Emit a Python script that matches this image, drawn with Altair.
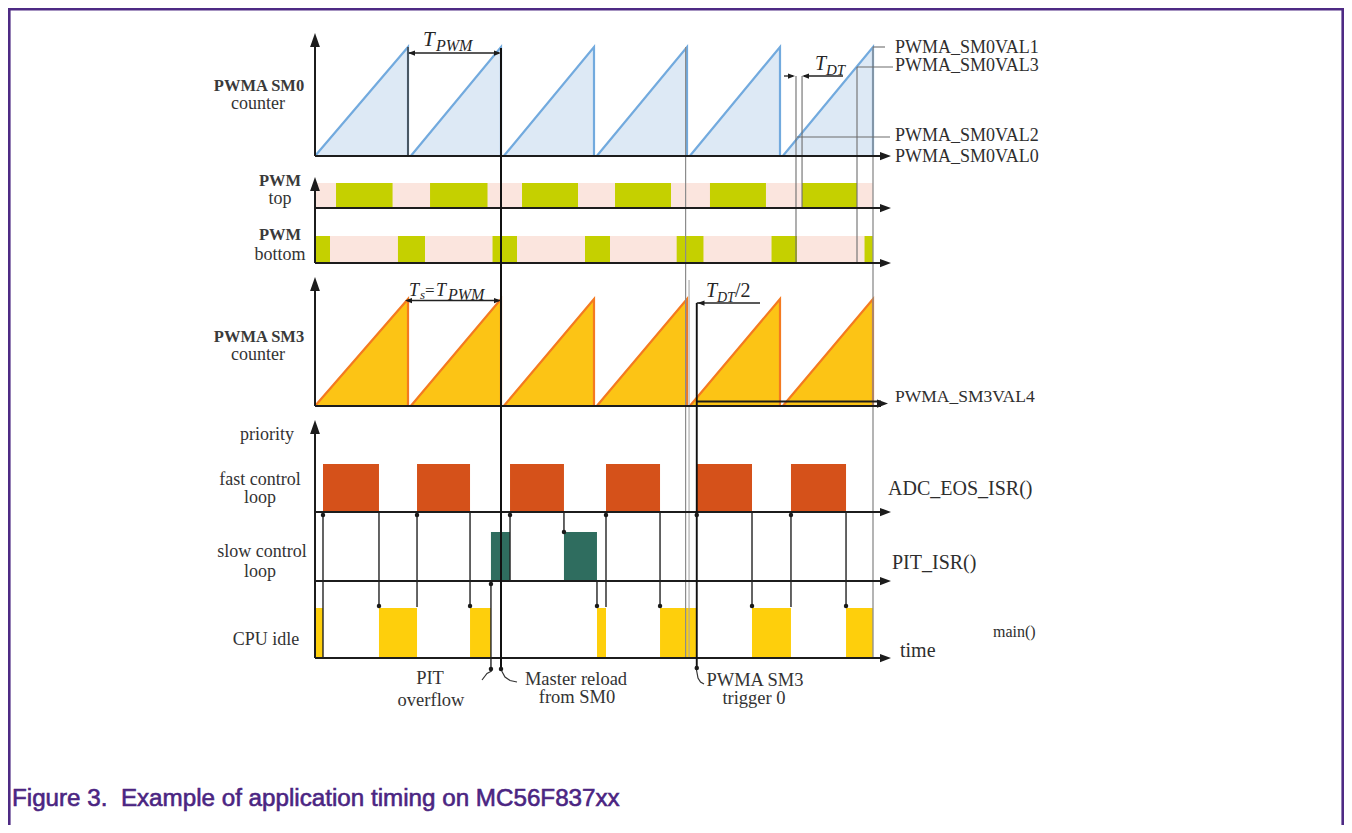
import altair as alt
import pandas as pd

# ---------------- timing data (time in PWM periods T_PWM, 0 = left axis) ----------------
PERIOD_INDEX = [0, 1, 2, 3, 4, 5]
RAMP_START = [0.00, 1.03, 2.03, 3.03, 4.03, 5.03]
RAMP_PEAK = [1.00, 2.00, 3.00, 4.00, 5.00, 6.00]

PWM_TOP_ON = [0.226, 1.237, 2.226, 3.226, 4.247, 5.237]
PWM_TOP_OFF = [0.834, 1.855, 2.828, 3.828, 4.849, 5.828]
PWM_BOT_ON = [0.000, 0.892, 1.909, 2.903, 3.889, 4.909, 5.909]
PWM_BOT_OFF = [0.161, 1.183, 2.172, 3.172, 4.177, 5.183, 6.000]

FAST_ON = [0.086, 1.097, 2.097, 3.129, 4.105, 5.118]
FAST_OFF = [0.688, 1.667, 2.677, 3.710, 4.699, 5.710]
SLOW_ON = [1.892, 2.677]
SLOW_OFF = [2.097, 3.032]
IDLE_ON = [0.000, 0.688, 1.667, 3.032, 3.710, 4.699, 5.710]
IDLE_OFF = [0.086, 1.097, 1.892, 3.129, 4.105, 5.118, 6.000]

# context switches: time, from lane, to lane
SWITCH_T = [0.086, 0.688, 1.097, 1.667, 1.892, 2.097, 2.677, 3.032, 3.129, 3.710, 4.699, 5.118, 5.710]
SWITCH_FROM = ["time", "fast", "idle", "fast", "event", "slow", "fast", "slow", "idle", "fast", "fast", "idle", "fast"]
SWITCH_TO = ["fast", "idle", "fast", "idle", "slow", "fast", "slowtop", "idle", "fast", "idle", "idle", "fast", "idle"]

T_PIT_OVERFLOW = 1.892
T_MASTER_RELOAD = 2.0
T_SM3_TRIGGER = 4.105
T_VAL2 = 5.172
T_VAL2_DT = 5.237
T_VAL3 = 5.828
T_END = 6.0

LEFT_LABELS = ["PWMA SM0", "counter", "PWM", "top", "PWM", "bottom", "PWMA SM3", "counter",
               "priority", "fast control", "loop", "slow control", "loop", "CPU idle"]
LEFT_BOLD = [True, False, True, False, True, False, True, False, False, False, False, False, False, False]
RIGHT_LABELS = ["PWMA_SM0VAL1", "PWMA_SM0VAL3", "PWMA_SM0VAL2", "PWMA_SM0VAL0", "PWMA_SM3VAL4",
                "ADC_EOS_ISR()", "PIT_ISR()", "time", "main()"]
BOTTOM_LABELS = ["PIT", "overflow", "Master reload", "from SM0", "PWMA SM3", "trigger 0"]
CAPTION = "Figure 3.\u00a0 Example of application timing on MC56F837xx"

# ---------------- layout (page pixels) ----------------
PX0, PPT = 315.0, 93.0


def tx(px):
    return (px - PX0) / PPT


Y_SM0_BASE, Y_SM0_PEAK = 156, 47
Y_TOP_BASE, Y_TOP_HI = 208, 183
Y_BOT_BASE, Y_BOT_HI = 263, 236
Y_SM3_BASE, Y_SM3_PEAK = 406, 299
Y_FAST_BASE, Y_FAST_HI = 512, 464
Y_SLOW_BASE, Y_SLOW_HI = 581, 532
Y_IDLE_BASE, Y_IDLE_HI = 658, 608
Y_EVENT = 669
LANE_Y = {"time": Y_IDLE_BASE, "event": Y_EVENT, "fast": Y_FAST_BASE, "slow": Y_SLOW_BASE,
          "slowtop": Y_SLOW_HI, "idle": 607}
DOT_Y = {"fast": 515, "slow": 584, "slowtop": 532, "idle": 606}

BLUE_LINE, BLUE_FILL = "#72aade", "#dde9f5"
ORANGE_LINE, GOLD_FILL = "#f47a20", "#fcc415"
PINK, GREEN = "#fbe5de", "#c5d000"
FAST_C, SLOW_C, IDLE_C = "#d5511a", "#2f6d5f", "#fecf0c"
INK, GREY, TXT = "#1c1c1c", "#8c8c8c", "#333333"
PURPLE = "#4e2a84"

W, H = 1336, 817
xs = alt.Scale(domain=[tx(8), tx(8 + W)], nice=False, zero=False)
ys = alt.Scale(domain=[8, 8 + H], reverse=True, nice=False, zero=False)


def X(f="x"):
    return alt.X(f"{f}:Q", scale=xs, axis=None)


def Y(f="y"):
    return alt.Y(f"{f}:Q", scale=ys, axis=None)


# ---------------- rects ----------------
rects = []
rects.append(dict(x=0, x2=T_END, y=Y_TOP_HI, y2=Y_TOP_BASE, c=PINK))
rects.append(dict(x=0, x2=T_END, y=Y_BOT_HI, y2=Y_BOT_BASE - 1, c=PINK))
for a, b in zip(PWM_TOP_ON, PWM_TOP_OFF):
    rects.append(dict(x=a, x2=b, y=Y_TOP_HI, y2=Y_TOP_BASE, c=GREEN))
for a, b in zip(PWM_BOT_ON, PWM_BOT_OFF):
    rects.append(dict(x=a, x2=b, y=Y_BOT_HI, y2=Y_BOT_BASE - 1, c=GREEN))
for a, b in zip(FAST_ON, FAST_OFF):
    rects.append(dict(x=a, x2=b, y=Y_FAST_HI, y2=Y_FAST_BASE, c=FAST_C))
for a, b in zip(SLOW_ON, SLOW_OFF):
    rects.append(dict(x=a, x2=b, y=Y_SLOW_HI, y2=Y_SLOW_BASE, c=SLOW_C))
for a, b in zip(IDLE_ON, IDLE_OFF):
    rects.append(dict(x=a, x2=b, y=Y_IDLE_HI, y2=Y_IDLE_BASE, c=IDLE_C))
rect_layer = alt.Chart(pd.DataFrame(rects)).mark_rect(strokeWidth=0).encode(
    x=X(), x2="x2:Q", y=Y(), y2="y2:Q", color=alt.Color("c:N", scale=None))

# ---------------- sawtooth counters ----------------
area_rows, line_rows = [], []
for name, base, peak, lc, fc in [("sm0", Y_SM0_BASE, Y_SM0_PEAK, BLUE_LINE, BLUE_FILL),
                                 ("sm3", Y_SM3_BASE, Y_SM3_PEAK, ORANGE_LINE, GOLD_FILL)]:
    for k, s, p in zip(PERIOD_INDEX, RAMP_START, RAMP_PEAK):
        g = f"{name}{k}"
        area_rows += [dict(x=s, y=base, y2=base, g=g, c=fc), dict(x=p, y=peak, y2=base, g=g, c=fc)]
        line_rows += [dict(x=s, y=base, g=g, c=lc, i=0), dict(x=p, y=peak, g=g, c=lc, i=1),
                      dict(x=p, y=base, g=g, c=lc, i=2)]
area_layer = alt.Chart(pd.DataFrame(area_rows)).mark_area(opacity=1).encode(
    x=X(), y=Y(), y2="y2:Q", color=alt.Color("c:N", scale=None), detail="g:N")
saw_w = alt.Chart(pd.DataFrame(line_rows)).mark_line(strokeWidth=2.2).encode(
    x=X(), y=Y(), color=alt.Color("c:N", scale=None), detail="g:N", order="i:Q")

# ---------------- rules ----------------
rules = []


def rule(x1, y1, x2, y2, c=INK, w=2.0):
    rules.append(dict(x=x1, y=y1, x2=x2, y2=y2, c=c, w=w))


# frame
rule(tx(9.3), 9.3, tx(9.3), 8 + H, PURPLE, 2.6)
rule(tx(8), 9.3, tx(8 + W), 9.3, PURPLE, 2.6)
rule(tx(1342.7), 9.3, tx(1342.7), 8 + H, PURPLE, 2.6)
# reference verticals (behind axes)
rule(1.0, Y_SM0_PEAK, 1.0, Y_SM0_BASE, "#3c3c3c", 1.5)
rule(3.985, Y_SM0_PEAK, 3.985, Y_IDLE_BASE, GREY, 1.2)
rule(4.022, 280, 4.022, Y_IDLE_BASE, "#a8a8a8", 1.1)
rule(T_END, Y_SM0_PEAK, T_END, Y_IDLE_BASE, GREY, 1.3)
rule(T_VAL2, 76, T_VAL2, Y_BOT_BASE, "#6d6d6d", 1.1)
rule(T_VAL2_DT, 76, T_VAL2_DT, Y_TOP_BASE, "#6d6d6d", 1.1)
rule(T_VAL3, 67, T_VAL3, Y_BOT_BASE, "#6d6d6d", 1.1)
# compare value lines
rule(T_END, Y_SM0_PEAK, tx(885), Y_SM0_PEAK, "#6d6d6d", 1.1)
rule(T_VAL3, 67, tx(893), 67, "#6d6d6d", 1.1)
rule(tx(797), 137, tx(890), 137, "#6d6d6d", 1.1)
# left axes
rule(0, 40, 0, Y_SM0_BASE)
rule(0, 184, 0, Y_BOT_BASE)
rule(0, 284, 0, Y_SM3_BASE)
rule(0, 427, 0, Y_IDLE_BASE)
# horizontal axes
for yy in [Y_SM0_BASE, Y_TOP_BASE, Y_BOT_BASE, Y_FAST_BASE, Y_SLOW_BASE, Y_IDLE_BASE]:
    rule(0, yy, tx(884), yy)
rule(0, Y_SM3_BASE, tx(881), Y_SM3_BASE, INK, 1.8)
rule(T_SM3_TRIGGER, 401.5, tx(881), 401.5, INK, 1.8)
# event lines
rule(T_MASTER_RELOAD, 48, T_MASTER_RELOAD, Y_EVENT, "#111111", 2.0)
rule(T_SM3_TRIGGER, 303, T_SM3_TRIGGER, Y_EVENT - 1, "#111111", 1.9)
for t, a, b in zip(SWITCH_T, SWITCH_FROM, SWITCH_TO):
    rule(t, LANE_Y[a], t, LANE_Y[b], "#222222", 1.4)
# dimension lines
rule(tx(409), 53, tx(499), 53, "#222222", 1.3)
rule(tx(407), 300.5, tx(499), 300.5, "#222222", 1.3)
rule(tx(784), 76, tx(793), 76, "#222222", 1.3)
rule(tx(804), 76, tx(843), 76, "#222222", 1.3)
rule(T_SM3_TRIGGER, 303, tx(760), 303, "#222222", 1.3)

rule_layer = alt.Chart(pd.DataFrame(rules)).mark_rule().encode(
    x=X(), y=Y(), x2="x2:Q", y2="y2:Q",
    color=alt.Color("c:N", scale=None), strokeWidth=alt.StrokeWidth("w:Q", scale=None))

# ---------------- leader curves ----------------
lead = []
for g, pts in [("pit", [(491.7, 671), (487, 673.5), (482, 680)]),
               ("mr", [(501.7, 671), (505, 677), (510, 680.5), (517, 682)]),
               ("trg", [(696.5, 670), (698, 678), (700.5, 682), (704, 684)])]:
    for i, (px, py) in enumerate(pts):
        lead.append(dict(x=tx(px), y=py, g=g, i=i))
lead_layer = alt.Chart(pd.DataFrame(lead)).mark_line(color="#333333", strokeWidth=1.2).encode(
    x=X(), y=Y(), detail="g:N", order="i:Q")

# ---------------- arrowheads and dots ----------------
UP = "M-0.7,1L0,-1L0.7,1Z"
RIGHT = "M-1,-0.75L1,0L-1,0.75Z"
LEFT = "M1,-0.75L-1,0L1,0.75Z"
heads = []
for tip in [33, 177, 277, 420]:
    heads.append(dict(x=0, y=tip + 7, sh=UP, s=196))
for yy in [Y_SM0_BASE, Y_TOP_BASE, Y_BOT_BASE, Y_FAST_BASE, Y_SLOW_BASE, Y_IDLE_BASE]:
    heads.append(dict(x=tx(891 - 5.5), y=yy, sh=RIGHT, s=121))
heads.append(dict(x=tx(888 - 5.5), y=403.5, sh=RIGHT, s=121))
# dimension arrowheads
heads += [dict(x=tx(408 + 3.5), y=53, sh=LEFT, s=49), dict(x=tx(501 - 3.5), y=53, sh=RIGHT, s=49),
          dict(x=tx(405 + 3.5), y=300.5, sh=LEFT, s=49), dict(x=tx(501 - 3.5), y=300.5, sh=RIGHT, s=49),
          dict(x=tx(795 - 3.5), y=76, sh=RIGHT, s=49), dict(x=tx(802 + 3.5), y=76, sh=LEFT, s=49),
          dict(x=tx(697.5 + 3.5), y=303, sh=LEFT, s=49)]
head_layer = alt.Chart(pd.DataFrame(heads)).mark_point(filled=True, opacity=1, strokeWidth=0, color=INK).encode(
    x=X(), y=Y(), shape=alt.Shape("sh:N", scale=None), size=alt.Size("s:Q", scale=None))

dots = [dict(x=t, y=DOT_Y[b]) for t, b in zip(SWITCH_T, SWITCH_TO)]
dots.append(dict(x=T_SM3_TRIGGER, y=DOT_Y["fast"]))
dots += [dict(x=T_PIT_OVERFLOW, y=Y_EVENT), dict(x=T_MASTER_RELOAD, y=Y_EVENT), dict(x=T_SM3_TRIGGER, y=Y_EVENT - 1)]
dot_layer = alt.Chart(pd.DataFrame(dots)).mark_point(filled=True, opacity=1, strokeWidth=0, color="#1a1a1a",
                                                    shape="circle", size=20).encode(x=X(), y=Y())

# ---------------- texts ----------------
left_pos = [(259, 90.5), (258, 108.5), (280, 185.5), (280, 204), (280, 240), (280, 259.5), (259, 341.5),
            (258, 359.5), (267, 440), (260, 485), (260, 502.5), (262, 557), (260, 577), (266, 645)]
lt = pd.DataFrame([dict(x=tx(p[0]), y=p[1], t=s, b=bd) for s, bd, p in zip(LEFT_LABELS, LEFT_BOLD, left_pos)])
left_reg = alt.Chart(lt[~lt.b]).mark_text(font="Liberation Serif", fontSize=18, color=TXT, align="center",
                                          baseline="alphabetic").encode(x=X(), y=Y(), text="t:N")
left_bold = alt.Chart(lt[lt.b]).mark_text(font="Liberation Serif", fontSize=16.5, fontWeight="bold",
                                          color="#3a3a3a", align="center",
                                          baseline="alphabetic").encode(x=X(), y=Y(), text="t:N")

right_pos = [(895, 53, 18), (895, 71, 18), (895, 141, 18), (895, 162, 18), (895, 402, 17.5),
             (888, 495, 20), (892, 569, 20), (900, 657, 20), (993, 637, 16)]
rt = pd.DataFrame([dict(x=tx(p[0]), y=p[1], s=p[2], t=s) for s, p in zip(RIGHT_LABELS, right_pos)])
right_layer = alt.Chart(rt).mark_text(font="Liberation Serif", color="#2e2e2e", align="left",
                                      baseline="alphabetic").encode(
    x=X(), y=Y(), text="t:N", size=alt.Size("s:Q", scale=None))

bottom_pos = [(430, 684), (431, 706), (576, 685), (577, 703), (755, 686), (754, 704)]
bt = pd.DataFrame([dict(x=tx(p[0]), y=p[1], t=s) for s, p in zip(BOTTOM_LABELS, bottom_pos)])
bottom_layer = alt.Chart(bt).mark_text(font="Liberation Serif", fontSize=18.5, color=TXT, align="center",
                                       baseline="alphabetic").encode(x=X(), y=Y(), text="t:N")

math_it = [("T", 423, 46, 21), ("PWM", 436, 51, 16),
           ("T", 815, 70, 20), ("DT", 826, 75, 15),
           ("T", 409, 296, 18), ("s", 420, 299, 13), ("T", 436, 296, 18), ("PWM", 448, 300, 16),
           ("T", 706, 297, 20), ("DT", 717, 302, 14)]
mi = pd.DataFrame([dict(t=a, x=tx(b), y=c, s=d) for a, b, c, d in math_it])
math_it_layer = alt.Chart(mi).mark_text(font="Liberation Serif", fontStyle="italic", color="#262626",
                                        align="left", baseline="alphabetic").encode(
    x=X(), y=Y(), text="t:N", size=alt.Size("s:Q", scale=None))
math_rm = [("=", 425, 296, 17), ("/2", 735, 297, 20)]
mr = pd.DataFrame([dict(t=a, x=tx(b), y=c, s=d) for a, b, c, d in math_rm])
math_rm_layer = alt.Chart(mr).mark_text(font="Liberation Serif", color="#262626", align="left",
                                        baseline="alphabetic").encode(
    x=X(), y=Y(), text="t:N", size=alt.Size("s:Q", scale=None))

cap = pd.DataFrame([dict(x=tx(12), y=806, t=CAPTION)])
cap_layer = alt.Chart(cap).mark_text(font="Liberation Sans", fontSize=24.2, color="#4b2582", stroke="#4b2582",
                                     strokeWidth=0.6, align="left",
                                     baseline="alphabetic").encode(x=X(), y=Y(), text="t:N")

chart = alt.layer(
    rect_layer, area_layer, saw_w, rule_layer, lead_layer, head_layer, dot_layer,
    left_reg, left_bold, right_layer, bottom_layer, math_it_layer, math_rm_layer, cap_layer
).properties(
    width=W, height=H, autosize=alt.AutoSizeParams(type="none"), padding=0, background="white"
).configure_view(stroke=None)

chart.save("out.html", embed_options={"renderer": "svg", "actions": False})
